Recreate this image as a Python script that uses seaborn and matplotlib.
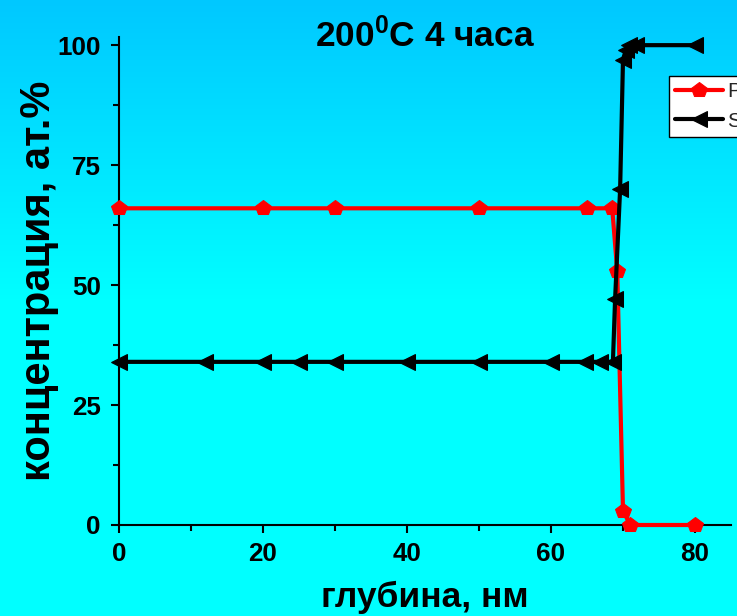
import numpy as np
import matplotlib
matplotlib.use("Agg")
import matplotlib.pyplot as plt
from matplotlib.colors import LinearSegmentedColormap
from matplotlib.ticker import MultipleLocator
import seaborn as sns

# Depth profile after annealing at 200 °C for 4 hours
pt_depth = [0, 20, 30, 50, 65, 68.5, 69.2, 70.0, 71.0, 80]
pt_conc = [66, 66, 66, 66, 66, 66, 53, 3, 0, 0]

si_depth = [0, 12, 20, 25, 30, 40, 50, 60, 64.7, 66.8, 68.6, 68.9, 69.6, 70.0, 70.4, 70.9, 71.8, 80]
si_conc = [34, 34, 34, 34, 34, 34, 34, 34, 34, 34, 34, 47, 70, 97, 99, 100, 100, 100]

series_names = ["Pt", "Si"]
x_ticks = [0, 20, 40, 60, 80]
y_ticks = [0, 25, 50, 75, 100]

sns.set_theme(style="ticks")

fam = "Liberation Sans"
plt.rcParams["font.family"] = [fam, "DejaVu Sans"]
plt.rcParams["mathtext.fontset"] = "custom"
plt.rcParams["mathtext.rm"] = f"{fam}:bold"
plt.rcParams["mathtext.bf"] = f"{fam}:bold"
plt.rcParams["mathtext.default"] = "bf"

W, H = 737, 616
fig = plt.figure(figsize=(W / 100, H / 100), dpi=100)

# background: blue at the top fading into cyan
bg = fig.add_axes([0, 0, 1, 1], zorder=-10)
grad_px = np.arange(H)
t = np.clip(grad_px / 300.0, 0, 1)
cmap = LinearSegmentedColormap.from_list("bgc", ["#00C8FF", "#00FFFF"])
bg.imshow(t[:, None], aspect="auto", cmap=cmap, vmin=0, vmax=1,
          extent=[0, 1, 0, 1], origin="upper")
bg.set_axis_off()

ax_w = (731 - 119) / W
ax_h = (525 - 37) / H
ax = fig.add_axes([119 / W, 1 - 525 / H, ax_w, ax_h])
ax.set_facecolor("none")

sns.lineplot(x=pt_depth, y=pt_conc, ax=ax, color="red", marker="p",
             markersize=11.5, markeredgecolor="red", linewidth=3,
             label=series_names[0], legend=False, clip_on=False, zorder=3)
sns.lineplot(x=si_depth, y=si_conc, ax=ax, color="black", marker="<",
             markersize=11, markeredgecolor="black", linewidth=3,
             label=series_names[1], legend=False, clip_on=False, zorder=4)

ax.set_xlim(0, 85)
ax.set_ylim(0, 101.7)
ax.set_xticks(x_ticks)
ax.set_yticks(y_ticks)
ax.xaxis.set_minor_locator(MultipleLocator(10))
ax.yaxis.set_minor_locator(MultipleLocator(12.5))

for side in ["top", "right"]:
    ax.spines[side].set_visible(False)
for side in ["left", "bottom"]:
    ax.spines[side].set_linewidth(1.5)
    ax.spines[side].set_color("black")

ax.tick_params(which="major", length=6, width=1.5, color="black",
               labelsize=18.7, labelcolor="black", direction="out")
ax.tick_params(which="minor", length=4, width=1.5, color="black", direction="out")
ax.tick_params(axis="x", which="major", pad=6)
ax.tick_params(axis="y", which="major", pad=7)
for lab in ax.get_xticklabels() + ax.get_yticklabels():
    lab.set_fontweight("bold")

ax.set_xlabel("глубина, нм", fontsize=25.5, fontweight="bold", color="black")
ax.set_ylabel("концентрация, ат.%", fontsize=30, fontweight="bold",
              color="black")
ax.xaxis.set_label_coords(0.5, (525 - 581) / 488)
ax.yaxis.set_label_coords((59 - 119) / 612, 0.5)

fig.text(425 / W, 1 - 47 / H, r"$200^{0}$C 4 часа", ha="center",
         va="baseline", fontsize=25.4, fontweight="bold", color="black")

handles, labels = ax.get_legend_handles_labels()
leg = fig.legend(handles, labels, loc="upper left",
                 bbox_to_anchor=(669 / W, 1 - 76 / H), fontsize=15,
                 frameon=True, fancybox=False, borderpad=0.3,
                 borderaxespad=0, handlelength=2.3, handletextpad=0.2,
                 labelspacing=0.5, edgecolor="black", facecolor="white",
                 framealpha=1)
leg.get_frame().set_linewidth(1.0)

fig.savefig("out.png", dpi=100)
